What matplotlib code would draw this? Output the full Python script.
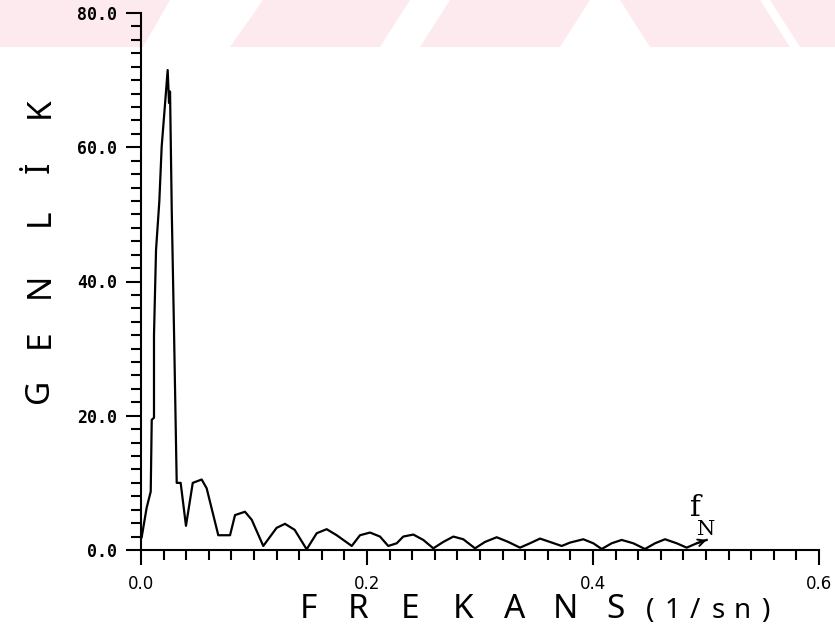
import numpy as np
import matplotlib.pyplot as plt
from matplotlib.ticker import MultipleLocator

# spectrum (frequency in 1/sn, amplitude)
freq = [0.0006, 0.005, 0.0086, 0.0095, 0.0115, 0.0115, 0.0133, 0.0162, 0.0183,
        0.0212, 0.0236, 0.0248, 0.0257, 0.0272, 0.0292, 0.0316, 0.0351, 0.0398,
        0.0458, 0.0537, 0.0581, 0.0684, 0.0788, 0.0832, 0.092, 0.098, 0.1082,
        0.120, 0.1274, 0.136, 0.1466, 0.1555, 0.1643, 0.1732, 0.1865, 0.1938,
        0.2027, 0.2115, 0.2188, 0.2263, 0.2321, 0.241, 0.2498, 0.2587, 0.2675,
        0.2764, 0.2852, 0.2956, 0.3044, 0.3148, 0.325, 0.3354, 0.3442, 0.3531,
        0.3619, 0.3723, 0.3796, 0.3914, 0.4003, 0.4077, 0.4165, 0.4254, 0.4357,
        0.446, 0.4549, 0.4637, 0.4741, 0.4829, 0.4918, 0.5006]
amp = [1.9, 6.3, 8.7, 19.4, 19.7, 32.0, 44.7, 51.9, 60.1,
       66.3, 71.5, 66.6, 68.3, 50.7, 32.8, 10.0, 10.0, 3.6,
       10.0, 10.5, 9.2, 2.2, 2.2, 5.2, 5.7, 4.5, 0.6,
       3.3, 3.9, 3.0, 0.1, 2.5, 3.1, 2.2, 0.6, 2.2,
       2.6, 2.0, 0.6, 1.0, 2.0, 2.3, 1.5, 0.25, 1.2,
       2.0, 1.6, 0.25, 1.2, 1.9, 1.2, 0.35, 1.0, 1.7,
       1.2, 0.6, 1.1, 1.6, 1.0, 0.15, 1.0, 1.5, 1.0,
       0.15, 1.0, 1.6, 1.0, 0.35, 1.0, 1.5]

xticks = [0.0, 0.2, 0.4, 0.6]
xticklabels = ['0.0', '0.2', '0.4', '0.6']
yticks = [0, 20, 40, 60, 80]
yticklabels = ['0.0', '20.0', '40.0', '60.0', '80.0']

fig = plt.figure(figsize=(8.35, 6.37), dpi=100)
W, H = 835.0, 637.0

# pink watermark stripes along the top edge
pink = '#fdeaee'
stripes = [[(0, 47), (143, 47), (170, 0), (0, 0)],
           [(230, 47), (380, 47), (410, 0), (263, 0)],
           [(420, 47), (560, 47), (590, 0), (450, 0)],
           [(650, 47), (790, 47), (760, 0), (620, 0)],
           [(800, 47), (835, 47), (835, 0), (770, 0)]]
for s in stripes:
    pts = [(x / W, 1 - y / H) for x, y in s]
    fig.patches.append(plt.Polygon(pts, closed=True, transform=fig.transFigure,
                                   facecolor=pink, edgecolor='none', zorder=-1))

ax = fig.add_axes([141 / W, 1 - 550 / H, 678 / W, 537 / H])
ax.patch.set_alpha(0)
ax.plot(freq, amp, color='black', lw=1.6)
ax.annotate('', xy=(freq[-1], amp[-1]), xytext=(freq[-2], amp[-2]),
            arrowprops=dict(arrowstyle='->', lw=1.4, color='black',
                            mutation_scale=12, shrinkA=0, shrinkB=0))
ax.text(0.4905, 6.3, 'f', fontsize=21, ha='center', va='center',
        family='DejaVu Serif')
ax.text(0.5005, 3.0, 'N', fontsize=15, ha='center', va='center',
        family='DejaVu Serif')

ax.set_xlim(0, 0.6)
ax.set_ylim(0, 80)
ax.spines['top'].set_visible(False)
ax.spines['right'].set_visible(False)
ax.spines['left'].set_linewidth(1.5)
ax.spines['bottom'].set_linewidth(1.5)

ax.set_xticks(xticks)
ax.set_xticklabels(xticklabels, fontsize=12)
ax.set_yticks(yticks)
ax.set_yticklabels(yticklabels, fontsize=12, family='DejaVu Sans Mono',
                   weight='bold')
ax.xaxis.set_minor_locator(MultipleLocator(0.02))
ax.yaxis.set_minor_locator(MultipleLocator(2))
ax.tick_params(which='major', direction='out', length=11, width=1.5)
ax.tick_params(axis='y', which='major', pad=6)
ax.tick_params(axis='x', which='major', pad=7)
ax.tick_params(which='minor', direction='out', length=7, width=1.5)

# spaced-out axis titles
for ch, x in zip('FREKANS', [308, 358, 410, 463, 515, 565, 615]):
    fig.text(x / W, 1 - 610 / H, ch, fontsize=24, ha='center', va='center',
             family='Noto Sans', color='black')
for ch, x in zip('(1/sn)', [650, 672, 695, 718, 742, 765]):
    fig.text(x / W, 1 - 611 / H, ch, fontsize=20, ha='center', va='center',
             family='Noto Sans', color='black')
for ch, y in zip('GENLİK', [391, 339, 285, 217, 167, 108]):
    fig.text(40 / W, 1 - y / H, ch, fontsize=24, ha='center', va='center',
             rotation=90, family='Noto Sans', color='black')

fig.savefig('out.png', dpi=100)
